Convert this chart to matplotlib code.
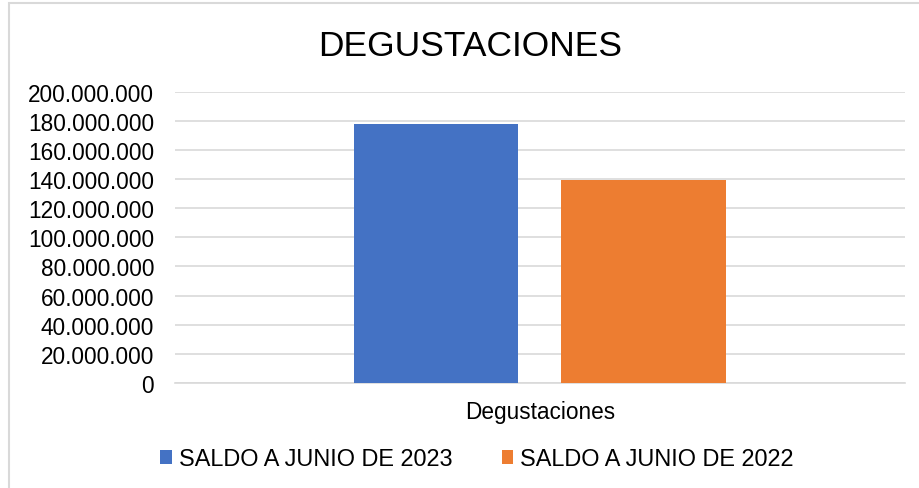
import matplotlib
matplotlib.use("Agg")
import matplotlib.pyplot as plt
from matplotlib.ticker import FuncFormatter, MultipleLocator
from matplotlib.patches import Rectangle

plt.rcParams['font.family'] = ['Liberation Sans', 'DejaVu Sans']

# ---- data ----
categories = ["Degustaciones"]
series_names = ["SALDO A JUNIO DE 2023", "SALDO A JUNIO DE 2022"]
saldo_2023 = [178000000]
saldo_2022 = [139300000]
title = "DEGUSTACIONES"

colors = ["#4472C4", "#ED7D31"]
W, H = 920, 489
fig = plt.figure(figsize=(W / 100, H / 100), dpi=100)
fig.patch.set_facecolor("white")

# chart border
fig.add_artist(Rectangle((9 / W, -0.1), 1.2, 1 - 4 / H + 0.1, transform=fig.transFigure,
                         fill=False, edgecolor="#D9D9D9", linewidth=1.5))

ax = fig.add_axes([175 / W, 1 - 384 / H, (905 - 175) / W, (384 - 92.7) / H])
ax.set_facecolor("none")

offsets = [-0.1425, 0.1418]
width = 0.2247
xs = list(range(len(categories)))
for vals, off, col, name in zip([saldo_2023, saldo_2022], offsets, colors, series_names):
    ax.bar([x + off for x in xs], vals, width=width, color=col, label=name, zorder=3)

ax.set_xlim(-0.5, len(categories) - 0.5)
ax.set_ylim(0, 200000000)
ax.yaxis.set_major_locator(MultipleLocator(20000000))
ax.yaxis.set_major_formatter(FuncFormatter(lambda v, p: f"{int(round(v)):,}".replace(",", ".")))
ax.grid(axis="y", color="#D9D9D9", linewidth=1.2, zorder=0)
ax.set_xticks(xs)
ax.set_xticklabels(categories)
for s in ["top", "right", "left"]:
    ax.spines[s].set_visible(False)
ax.spines["bottom"].set_color("#D9D9D9")
ax.spines["bottom"].set_linewidth(1.2)
ax.tick_params(axis="y", length=0, pad=15, labelsize=16.3, labelcolor="#000000")
ax.tick_params(axis="x", length=0, pad=12, labelsize=16.3, labelcolor="#000000")

fig.text(470 / W, 1 - 56 / H, title, ha="center", va="baseline", fontsize=25.5, color="#000000")

handles, labels = ax.get_legend_handles_labels()
fig.legend(handles, labels, loc="center", bbox_to_anchor=(477 / W, 1 - 460 / H), ncol=2,
           frameon=False, fontsize=16.9, handlelength=0.5, handleheight=0.5,
           handletextpad=0.3, columnspacing=2.1)

fig.savefig("out.png", dpi=100, facecolor="white")
